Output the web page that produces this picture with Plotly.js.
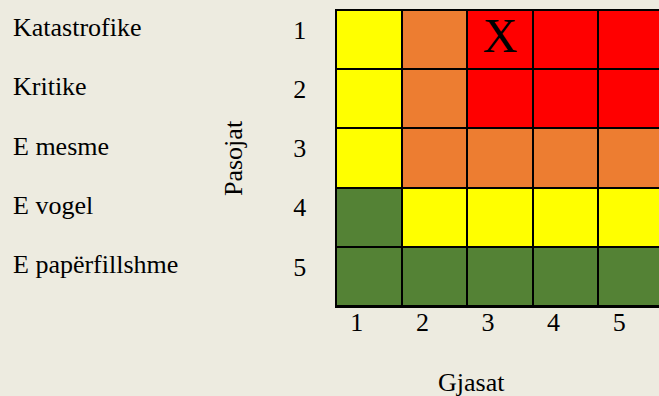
<!DOCTYPE html>
<html>
<head>
<meta charset="utf-8">
<script src="https://cdn.plot.ly/plotly-3.0.1.min.js"></script>
<style>
html,body{margin:0;padding:0;overflow:hidden;background:#EDEBE0;}
#chart{width:665px;height:396px;}
</style>
</head>
<body>
<div id="chart"></div>
<script>
// Data
var gjasat = [1, 2, 3, 4, 5];                 // likelihood (x)
var pasojat = [1, 2, 3, 4, 5];                // consequence (y)
var pasojatNames = ["Katastrofike", "Kritike", "E mesme", "E vogel", "E papërfillshme"];
var xTickLabels = ["1", "2", "3", "4", "5"];
var yTickLabels = ["1", "2", "3", "4", "5"];
// risk level per cell: 1 = green, 2 = yellow, 3 = orange, 4 = red
var riskRow1 = [2, 3, 4, 4, 4];
var riskRow2 = [2, 3, 4, 4, 4];
var riskRow3 = [2, 3, 3, 3, 3];
var riskRow4 = [1, 2, 2, 2, 2];
var riskRow5 = [1, 1, 1, 1, 1];
var markGjasa = [3];
var markPasoja = [1];
var markText = ["X"];

var FONT = "Liberation Serif, Times New Roman, serif";
var W = 665, H = 396;
var mL = 336, mR = 1, mT = 10, mB = 90;
var pw = W - mL - mR, ph = H - mT - mB;
function px2paperX(p){ return (p - mL) / pw; }
function px2paperY(p){ return (H - mB - p) / ph; }

var heat = {
  type: 'heatmap',
  x: gjasat,
  y: pasojat,
  z: [riskRow1, riskRow2, riskRow3, riskRow4, riskRow5],
  zmin: 1, zmax: 4,
  colorscale: [[0, '#548235'], [0.3333, '#FFFF00'], [0.6667, '#ED7D31'], [1, '#FF0000']],
  showscale: false,
  xgap: 2, ygap: 2,
  hoverinfo: 'skip'
};
var mark = {
  type: 'scatter',
  mode: 'text',
  x: markGjasa,
  y: markPasoja,
  text: markText,
  textposition: 'middle center',
  textfont: {family: FONT, size: 48, color: '#000000'},
  hoverinfo: 'skip',
  showlegend: false
};

var annotations = pasojatNames.map(function(n, i){
  return {
    text: n, xref: 'paper', yref: 'y', x: px2paperX(11), y: pasojat[i],
    xanchor: 'left', yanchor: 'middle', yshift: 12, showarrow: false,
    font: {family: FONT, size: 26, color: '#000000'}
  };
});
annotations.push({
  text: 'Pasojat', xref: 'paper', yref: 'paper', x: px2paperX(233), y: px2paperY(158),
  xanchor: 'center', yanchor: 'middle', textangle: -90, showarrow: false,
  font: {family: FONT, size: 26, color: '#000000'}
});
annotations.push({
  text: 'Gjasat', xref: 'paper', yref: 'paper', x: px2paperX(471), y: px2paperY(382),
  xanchor: 'center', yanchor: 'middle', showarrow: false,
  font: {family: FONT, size: 26, color: '#000000'}
});

var layout = {
  width: W, height: H,
  margin: {l: mL, r: mR, t: mT, b: mB, pad: 0},
  paper_bgcolor: '#EDEBE0',
  plot_bgcolor: '#000000',
  showlegend: false,
  xaxis: {
    range: [0.5, 5.5], tickvals: gjasat, ticktext: xTickLabels,
    showgrid: false, zeroline: false, ticks: '',
    showline: true, mirror: true, linecolor: '#000000', linewidth: 1.5,
    tickfont: {family: FONT, size: 26, color: '#000000'},
    ticklabelshift: -12, ticklabelstandoff: -8, fixedrange: true
  },
  yaxis: {
    range: [5.5, 0.5], tickvals: pasojat, ticktext: yTickLabels,
    showgrid: false, zeroline: false, ticks: '',
    showline: true, mirror: true, linecolor: '#000000', linewidth: 1.5,
    tickfont: {family: FONT, size: 26, color: '#000000'},
    ticklabelshift: 10, ticklabelstandoff: 23, fixedrange: true
  },
  annotations: annotations
};

Plotly.newPlot('chart', [heat, mark], layout, {displayModeBar: false, staticPlot: true});
</script>
</body>
</html>
